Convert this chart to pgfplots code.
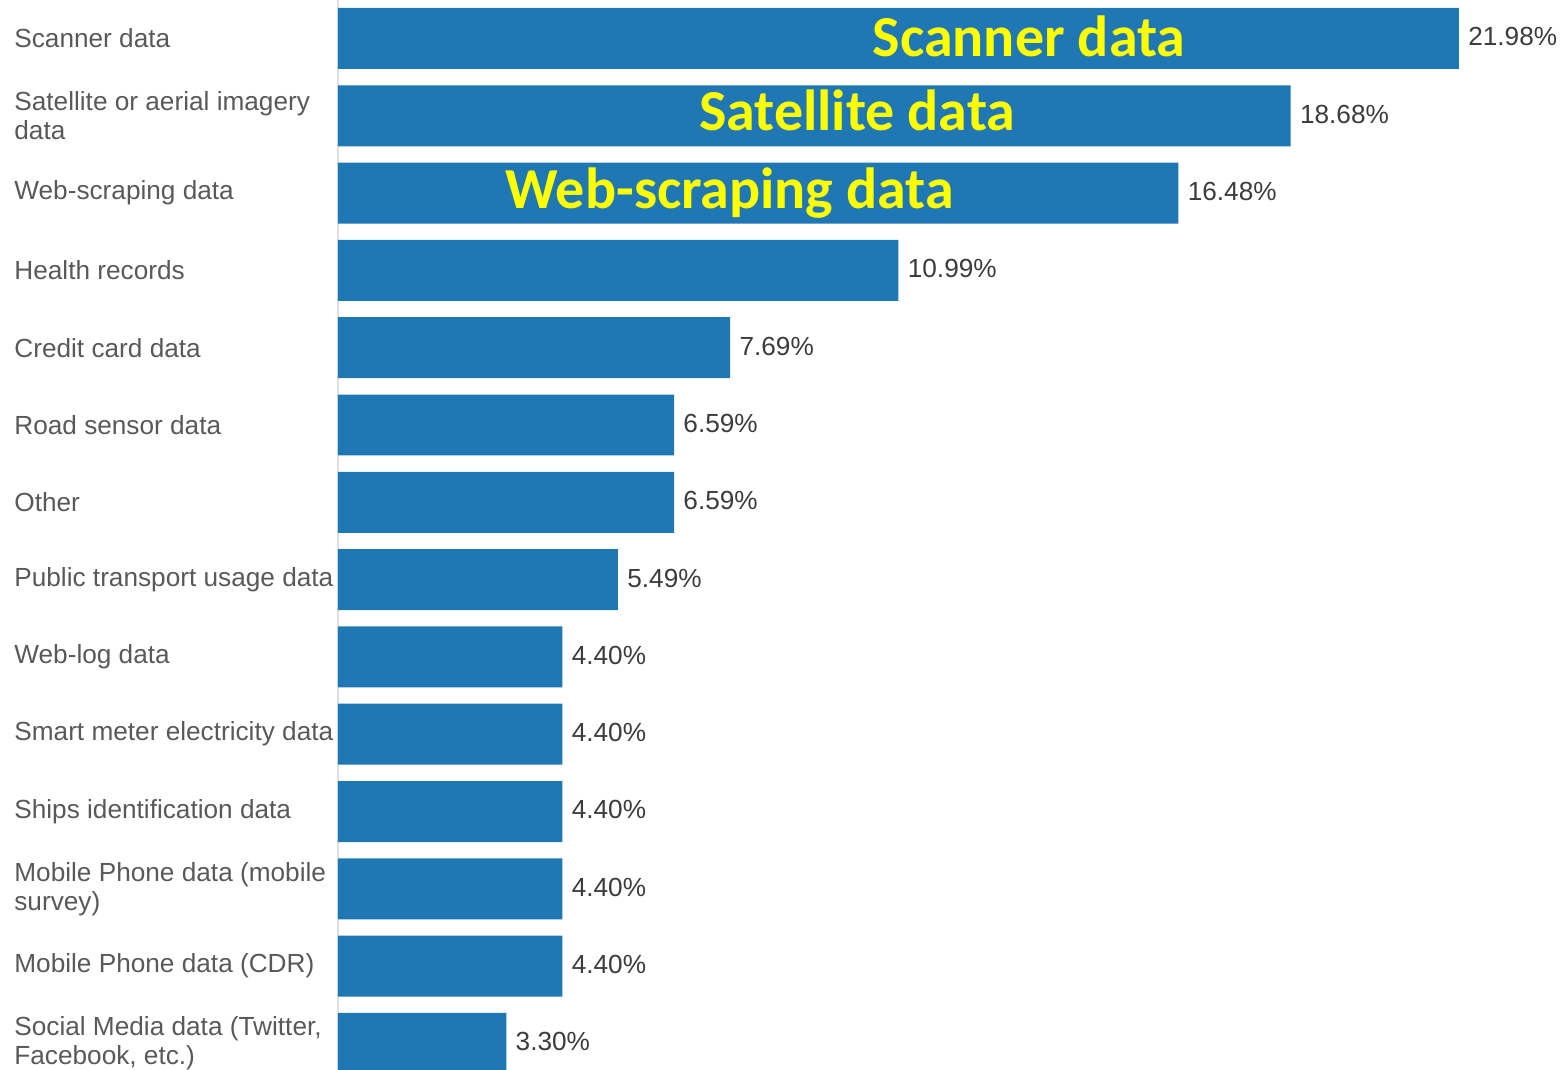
\documentclass[border=0pt]{standalone}
\usepackage{pgfplots}
\pgfplotsset{compat=1.18}
\usepackage{fontspec}
\setmainfont{Liberation Sans}
\newfontfamily\calib{Carlito}
\definecolor{barblue}{HTML}{1F77B4}
\definecolor{lblgray}{HTML}{595959}
\definecolor{valgray}{HTML}{3C3C3C}
\definecolor{annoyel}{HTML}{FFFF00}
\begin{document}
\begin{tikzpicture}
\begin{axis}[name=ax,
  scale only axis, width=614pt, height=535pt,
  xmin=0, xmax=24.08, ymin=-0.498, ymax=13.344, y dir=reverse,
  axis x line=none, axis y line*=left,
  y axis line style={draw=black!12, line width=0.6pt},
  ytick={0,...,13},
  yticklabels={{Scanner data},{Satellite or aerial imagery\\data},{Web-scraping data},{Health records},{Credit card data},{Road sensor data},{Other},{Public transport usage data},{Web-log data},{Smart meter electricity data},{Ships identification data},{Mobile Phone data (mobile\\survey)},{Mobile Phone data (CDR)},{Social Media data (Twitter,\\Facebook, etc.)}},
  major tick length=0pt,
  yticklabel style={anchor=west, xshift=-162pt, align=left, inner sep=0pt,
    font=\fontsize{13.1}{14.5}\selectfont, text=lblgray},
  xbar, bar width=0.789,
  point meta=x,
  nodes near coords={\pgfmathprintnumber[fixed,fixed zerofill,precision=2,assume math mode=true]{\pgfplotspointmeta}\%},
  every node near coord/.append style={anchor=west, xshift=4.5pt, yshift=0.8pt, inner sep=0pt,
    font=\fontsize{13.1}{14.5}\selectfont, text=valgray},
]
\addplot[draw=none, fill=barblue] table {
x y
21.98 0
18.68 1
16.48 2
10.99 3
7.69 4
6.59 5
6.59 6
5.49 7
4.40 8
4.40 9
4.40 10
4.40 11
4.40 12
3.30 13
};
\node[font=\calib\bfseries\fontsize{29}{34}\selectfont, text=annoyel, anchor=base, inner sep=0pt] at (axis cs:13.55,0.23) {Scanner data};
\node[font=\calib\bfseries\fontsize{29}{34}\selectfont, text=annoyel, anchor=base, inner sep=0pt] at (axis cs:10.18,1.195) {Satellite data};
\node[font=\calib\bfseries\fontsize{29}{34}\selectfont, text=annoyel, anchor=base, inner sep=0pt] at (axis cs:7.68,2.20) {Web-scraping data};
\end{axis}
\pgfresetboundingbox
\useasboundingbox ([xshift=-169pt]ax.south west) rectangle (ax.north east);
\end{tikzpicture}
\end{document}
